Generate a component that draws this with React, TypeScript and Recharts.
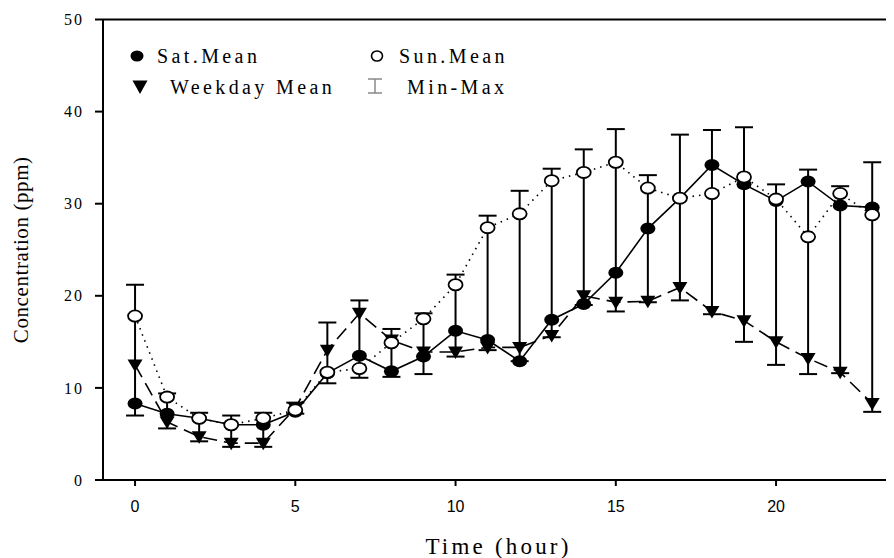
import { LineChart, Line, XAxis, YAxis, ErrorBar, ReferenceLine } from 'recharts';

const hours = [0, 1, 2, 3, 4, 5, 6, 7, 8, 9, 10, 11, 12, 13, 14, 15, 16, 17, 18, 19, 20, 21, 22, 23];
const satMean = [8.3, 7.2, 6.7, 6.0, 6.0, 7.4, 11.6, 13.5, 11.8, 13.4, 16.2, 15.2, 12.9, 17.4, 19.1, 22.5, 27.3, 30.6, 34.2, 32.1, 30.3, 32.4, 29.8, 29.6];
const sunMean = [17.8, 9.0, 6.7, 6.0, 6.7, 7.6, 11.7, 12.1, 14.9, 17.5, 21.2, 27.4, 28.9, 32.5, 33.4, 34.5, 31.7, 30.6, 31.1, 32.9, 30.5, 26.4, 31.1, 28.8];
const weekdayMean = [12.5, 6.3, 4.7, 4.0, 4.0, 7.8, 14.1, 18.1, 15.2, 13.9, 13.9, 14.4, 14.4, 15.7, 20.0, 19.3, 19.4, 20.9, 18.3, 17.3, 15.0, 13.2, 11.7, 8.3];
const minValue = [7.0, 5.6, 4.2, 3.6, 3.6, 7.2, 10.5, 11.1, 11.2, 11.5, 13.4, 14.1, 12.9, 15.5, 19.0, 18.3, 19.3, 19.5, 18.0, 15.0, 12.5, 11.5, 11.6, 7.4];
const maxValue = [21.2, 9.4, 7.3, 7.0, 7.3, 8.4, 17.1, 19.5, 16.4, 18.1, 22.3, 28.7, 31.4, 33.8, 35.9, 38.1, 33.1, 37.5, 38.0, 38.3, 32.1, 33.7, 31.9, 34.5];

const xTicks = [0, 5, 10, 15, 20];
const yTicks = [0, 10, 20, 30, 40, 50];

const data = hours.map((h, i) => ({
  hour: h,
  sat: satMean[i],
  sun: sunMean[i],
  weekday: weekdayMean[i],
  min: minValue[i],
  range: [0, maxValue[i] - minValue[i]],
}));

const SERIF = '"Liberation Serif", "Times New Roman", serif';
const NARROW = '"Liberation Sans Narrow", "Arial Narrow", "Liberation Sans", sans-serif';

const FilledDot = (props: any) => {
  const { cx, cy } = props;
  if (cx == null || cy == null) return null;
  return <ellipse cx={cx} cy={cy} rx={7.5} ry={6} fill="#000" />;
};

const OpenDot = (props: any) => {
  const { cx, cy } = props;
  if (cx == null || cy == null) return null;
  return <ellipse cx={cx} cy={cy} rx={7} ry={5.6} fill="#fff" stroke="#000" strokeWidth={1.8} />;
};

const TriangleDot = (props: any) => {
  const { cx, cy } = props;
  if (cx == null || cy == null) return null;
  return <polygon points={`${cx - 7.5},${cy - 5.5} ${cx + 7.5},${cy - 5.5} ${cx},${cy + 7}`} fill="#000" />;
};

const legendText: React.CSSProperties = {
  position: 'absolute',
  fontFamily: SERIF,
  fontSize: 20,
  letterSpacing: 3.4,
  lineHeight: '24px',
  transform: 'translateY(-50%)',
  whiteSpace: 'nowrap',
  color: '#000',
};

function ChartLegend() {
  return (
    <>
      <svg style={{ position: 'absolute', left: 121, top: 41 }} width={16} height={14}>
        <ellipse cx={8} cy={7} rx={6.5} ry={5.5} fill="#000" />
      </svg>
      <span style={{ ...legendText, left: 149, top: 48 }}>Sat.Mean</span>
      <svg style={{ position: 'absolute', left: 361, top: 41 }} width={16} height={14}>
        <ellipse cx={8} cy={7} rx={5.5} ry={5} fill="#fff" stroke="#000" strokeWidth={1.6} />
      </svg>
      <span style={{ ...legendText, left: 391, top: 48 }}>Sun.Mean</span>
      <svg style={{ position: 'absolute', left: 124, top: 72 }} width={16} height={15}>
        <polygon points="0.5,0.5 15.5,0.5 8,14" fill="#000" />
      </svg>
      <span style={{ ...legendText, left: 162, top: 79 }}>Weekday Mean</span>
      <svg style={{ position: 'absolute', left: 358, top: 70 }} width={18} height={17}>
        <line x1={2} y1={1} x2={16} y2={1} stroke="#888" strokeWidth={1.5} />
        <line x1={9} y1={1} x2={9} y2={15} stroke="#888" strokeWidth={1.5} />
        <line x1={2} y1={15} x2={16} y2={15} stroke="#888" strokeWidth={1.5} />
      </svg>
      <span style={{ ...legendText, left: 399, top: 79 }}>Min-Max</span>
    </>
  );
}

export default function App() {
  return (
    <div style={{ position: 'relative', width: 886, height: 550 }}>
      <style>{'html, body { overflow: hidden; }'}</style>
      <LineChart width={886} height={550} data={data} margin={{ top: 11.5, right: 0, bottom: 0, left: 0 }}>
        <XAxis
          type="number"
          dataKey="hour"
          domain={[-1, 23.68]}
          ticks={xTicks}
          allowDataOverflow
          height={78}
          axisLine={{ stroke: '#000', strokeWidth: 2 }}
          tickLine={{ stroke: '#000', strokeWidth: 2 }}
          tickSize={6}
          tickMargin={15}
          tick={{ fill: '#000', fontSize: 16, fontFamily: NARROW }}
          label={{
            value: 'Time (hour)',
            position: 'insideBottom',
            offset: 4,
            style: { fill: '#000', fontSize: 23, fontFamily: SERIF, letterSpacing: 3.2 },
          }}
        />
        <YAxis
          type="number"
          domain={[0, 50]}
          ticks={yTicks}
          width={95}
          axisLine={{ stroke: '#000', strokeWidth: 2 }}
          tickLine={{ stroke: '#000', strokeWidth: 2 }}
          tickSize={8}
          tickMargin={11}
          tick={{ fill: '#000', fontSize: 16, fontFamily: SERIF, letterSpacing: 2 }}
          label={{
            value: 'Concentration (ppm)',
            angle: -90,
            position: 'insideLeft',
            offset: 13,
            style: { textAnchor: 'middle', fill: '#000', fontSize: 21, fontFamily: SERIF, letterSpacing: 0.6 },
          }}
        />
        <ReferenceLine y={50} stroke="#000" strokeWidth={2} ifOverflow="visible" />
        <Line
          dataKey="min"
          stroke="none"
          dot={false}
          activeDot={false}
          legendType="none"
          isAnimationActive={false}
        >
          <ErrorBar dataKey="range" direction="y" width={9} stroke="#000" strokeWidth={2} isAnimationActive={false} />
        </Line>
        <Line
          dataKey="weekday"
          stroke="#000"
          strokeWidth={1.6}
          strokeDasharray="14 7"
          dot={<TriangleDot />}
          activeDot={false}
          isAnimationActive={false}
        />
        <Line
          dataKey="sat"
          stroke="#000"
          strokeWidth={1.6}
          dot={<FilledDot />}
          activeDot={false}
          isAnimationActive={false}
        />
        <Line
          dataKey="sun"
          stroke="#000"
          strokeWidth={1.6}
          strokeDasharray="1.5 5"
          dot={<OpenDot />}
          activeDot={false}
          isAnimationActive={false}
        />
      </LineChart>
      <ChartLegend />
    </div>
  );
}
